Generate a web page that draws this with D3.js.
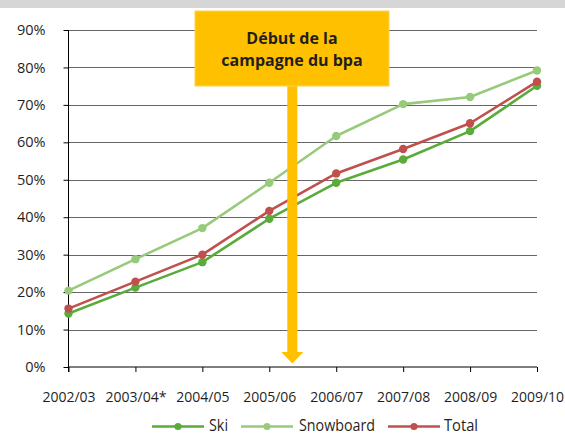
<!DOCTYPE html>
<html><head><meta charset="utf-8">
<script src="https://cdn.jsdelivr.net/npm/d3@7"></script>
<style>
body{margin:0;background:#fff;}
svg{display:block;}
text{font-family:"Open Sans","Noto Sans",sans-serif;fill:#1f1f1f;}
</style></head><body>
<svg id="c" width="565" height="435"></svg>
<script>
const categories = ["2002/03","2003/04*","2004/05","2005/06","2006/07","2007/08","2008/09","2009/10"];
const ski       = [14.3, 21.2, 28.0, 39.6, 49.2, 55.4, 63.0, 75.1];
const snowboard = [20.4, 28.8, 37.1, 49.2, 61.7, 70.2, 72.1, 79.2];
const total     = [15.6, 22.8, 30.0, 41.7, 51.7, 58.2, 65.1, 76.2];
const yTicks = [0,10,20,30,40,50,60,70,80,90];
const seriesNames = ["Ski","Snowboard","Total"];
const annotationLines = ["Début de la","campagne du bpa"];
const annotationCategory = "2005/06";

const colors = {"Ski":"#5aab3a","Snowboard":"#98ca7c","Total":"#c0504d"};
const series = [
  {name:"Ski", values:ski},
  {name:"Snowboard", values:snowboard},
  {name:"Total", values:total}
];

const svg = d3.select("#c");
const mLeft = 68.5, mRight = 537, mTop = 30, mBottom = 367;

// top grey band
svg.append("rect").attr("x",0).attr("y",0).attr("width",565).attr("height",8).attr("fill","#d6d6d6");

const x = d3.scalePoint().domain(categories).range([mLeft, mRight]);
const y = d3.scaleLinear().domain([0,90]).range([mBottom, mTop]);

// gridlines
svg.append("g").selectAll("line").data(yTicks.filter(d=>d>0)).join("line")
  .attr("x1",mLeft).attr("x2",mRight)
  .attr("y1",d=>Math.round(y(d))+0.5).attr("y2",d=>Math.round(y(d))+0.5)
  .attr("stroke","#666").attr("stroke-width",1);

// y axis
const yAxis = d3.axisLeft(y).tickValues(yTicks).tickFormat(d=>d+"%").tickSize(5).tickPadding(18);
const gy = svg.append("g").attr("transform",`translate(${mLeft},0)`).call(yAxis);
gy.select(".domain").attr("stroke","#000").attr("d",`M0,${mTop}V${mBottom+5}`);
gy.selectAll(".tick line").attr("stroke","#000");
gy.selectAll(".tick text").attr("font-size","14.5px").attr("fill","#1f1f1f").attr("font-family","Open Sans, sans-serif");

// x axis
const xAxis = d3.axisBottom(x).tickSize(5).tickPadding(20);
const gx = svg.append("g").attr("transform",`translate(0,${mBottom})`).call(xAxis);
gx.select(".domain").attr("stroke","#000").attr("d",`M${mLeft},0H${mRight}`);
gx.selectAll(".tick line").attr("stroke","#000");
gx.selectAll(".tick text").attr("font-size","14px").attr("fill","#1f1f1f").attr("font-family","Open Sans, sans-serif");

// lines
const line = d3.line().x((d,i)=>x(categories[i])).y(d=>y(d));
const order = ["Snowboard","Ski","Total"];
order.forEach(n=>{
  const s = series.find(s=>s.name===n);
  svg.append("path").datum(s.values).attr("d",line).attr("fill","none")
    .attr("stroke",colors[n]).attr("stroke-width",2.6).attr("stroke-linejoin","round");
  svg.append("g").selectAll("circle").data(s.values).join("circle")
    .attr("cx",(d,i)=>x(categories[i])).attr("cy",d=>y(d)).attr("r",4.2).attr("fill",colors[n]);
});

// annotation arrow
const ax = x(annotationCategory) + 23;
const boxX = 195, boxY = 11, boxW = 194, boxH = 75;
svg.append("rect").attr("x",ax-5).attr("y",boxY+boxH).attr("width",10).attr("height",352-(boxY+boxH)).attr("fill","#ffc000");
svg.append("path").attr("d",`M${ax-11},352L${ax+11},352L${ax},363.5Z`).attr("fill","#ffc000");
svg.append("rect").attr("x",boxX).attr("y",boxY).attr("width",boxW).attr("height",boxH).attr("fill","#ffc000")
  .attr("stroke","#ffd24d").attr("stroke-width",1);
svg.append("text").attr("x",boxX+boxW/2).attr("y",44).attr("text-anchor","middle")
  .attr("font-size","16px").attr("font-weight","bold").attr("fill","#1a1a1a").text(annotationLines[0]);
svg.append("text").attr("x",boxX+boxW/2).attr("y",66).attr("text-anchor","middle")
  .attr("font-size","16px").attr("font-weight","bold").attr("fill","#1a1a1a").text(annotationLines[1]);

// legend
const legendItems = [
  {name:"Ski", lx:152, tx:209, w:19},
  {name:"Snowboard", lx:241, tx:299, w:76},
  {name:"Total", lx:388, tx:444, w:34}
];
const lg = svg.append("g");
legendItems.forEach(it=>{
  lg.append("line").attr("x1",it.lx).attr("x2",it.lx+52).attr("y1",426.5).attr("y2",426.5)
    .attr("stroke",colors[it.name]).attr("stroke-width",2.6);
  lg.append("circle").attr("cx",it.lx+26).attr("cy",426.5).attr("r",3.6).attr("fill",colors[it.name]);
  lg.append("text").attr("x",it.tx).attr("y",430.5).attr("font-size","15.5px").attr("fill","#1f1f1f")
    .attr("textLength",it.w).attr("lengthAdjust","spacingAndGlyphs").text(it.name);
});
</script>
</body></html>
